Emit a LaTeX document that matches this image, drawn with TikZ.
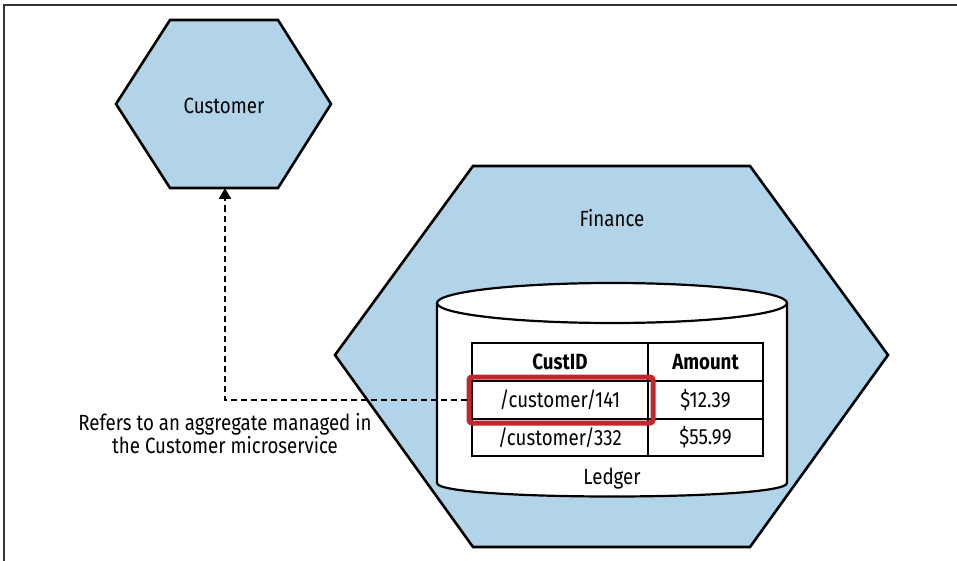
\documentclass[tikz,border=0pt]{standalone}
\usepackage{fontspec}
\setmainfont[FakeStretch=0.85]{Fira Sans}
\usetikzlibrary{arrows.meta}
\definecolor{hexblue}{RGB}{178,212,233}
\definecolor{refred}{RGB}{193,39,45}
\tikzset{
  hexshape/.style={draw=black, fill=hexblue, line width=2.6pt, line join=miter},
  cyl/.style={draw=black, fill=white, line width=2.2pt},
  cell/.style={draw=black, line width=2.2pt, inner sep=0pt, font=\fontsize{22}{25}\selectfont},
  lbl/.style={font=\fontsize{22}{23}\selectfont, inner sep=0pt},
  hl/.style={draw=refred, line width=5pt, rounded corners=3pt, inner sep=0pt},
  ref/.style={line width=2.6pt, dash pattern=on 6pt off 4pt, -{Triangle[width=12pt,length=11pt]}},
}
\begin{document}
\begin{tikzpicture}[x=1pt,y=-1pt]
\useasboundingbox (0,0) rectangle (957,561);
% frame (top and left)
\draw[line width=1.8pt, draw=black!80] (957,5) -- (4,5) -- (4,561);
% Customer hexagon
\draw[hexshape] (170,20) -- (278,20) -- (331,104) -- (278,188) -- (170,188) -- (116,104) -- cycle;
\coordinate (custbot) at (225,188);
\node[lbl] (cust) at (224,106) {Customer};
% Finance hexagon
\draw[hexshape] (473,166) -- (750,166) -- (888,355) -- (750,547) -- (473,547) -- (335,355) -- cycle;
\node[lbl] (fin) at (612,218) {Finance};
% Ledger cylinder
\draw[cyl, rounded corners=6pt] (437,303) -- (437,477) .. controls (437,501) and (787,501) .. (787,477) -- (787,303);
\filldraw[cyl] (612,303) ellipse [x radius=175pt, y radius=20pt];
\node[lbl] (ledger) at (612,479) {Ledger};
% table
\node[cell, minimum width=176pt, minimum height=38pt, font=\fontsize{22}{25}\selectfont\bfseries] (h1) at (560,362) {CustID};
\node[cell, minimum width=115pt, minimum height=38pt, font=\fontsize{22}{25}\selectfont\bfseries] (h2) at (705.5,362) {Amount};
\node[cell, minimum width=176pt, minimum height=38pt] (r1c1) at (560,400) {/customer/141};
\node[cell, minimum width=115pt, minimum height=38pt] (r1c2) at (705.5,400) {\$12.39};
\node[cell, minimum width=176pt, minimum height=37pt] (r2c1) at (560,437.5) {/customer/332};
\node[cell, minimum width=115pt, minimum height=37pt] (r2c2) at (705.5,437.5) {\$55.99};
% highlight
\node[hl, minimum width=184pt, minimum height=46pt] (red) at (561,400) {};
% reference connector
\draw[ref] (red.west) -| (custbot);
\node[lbl, align=center] (note) at (225,434) {Refers to an aggregate managed in\\the Customer microservice};
\end{tikzpicture}
\end{document}
